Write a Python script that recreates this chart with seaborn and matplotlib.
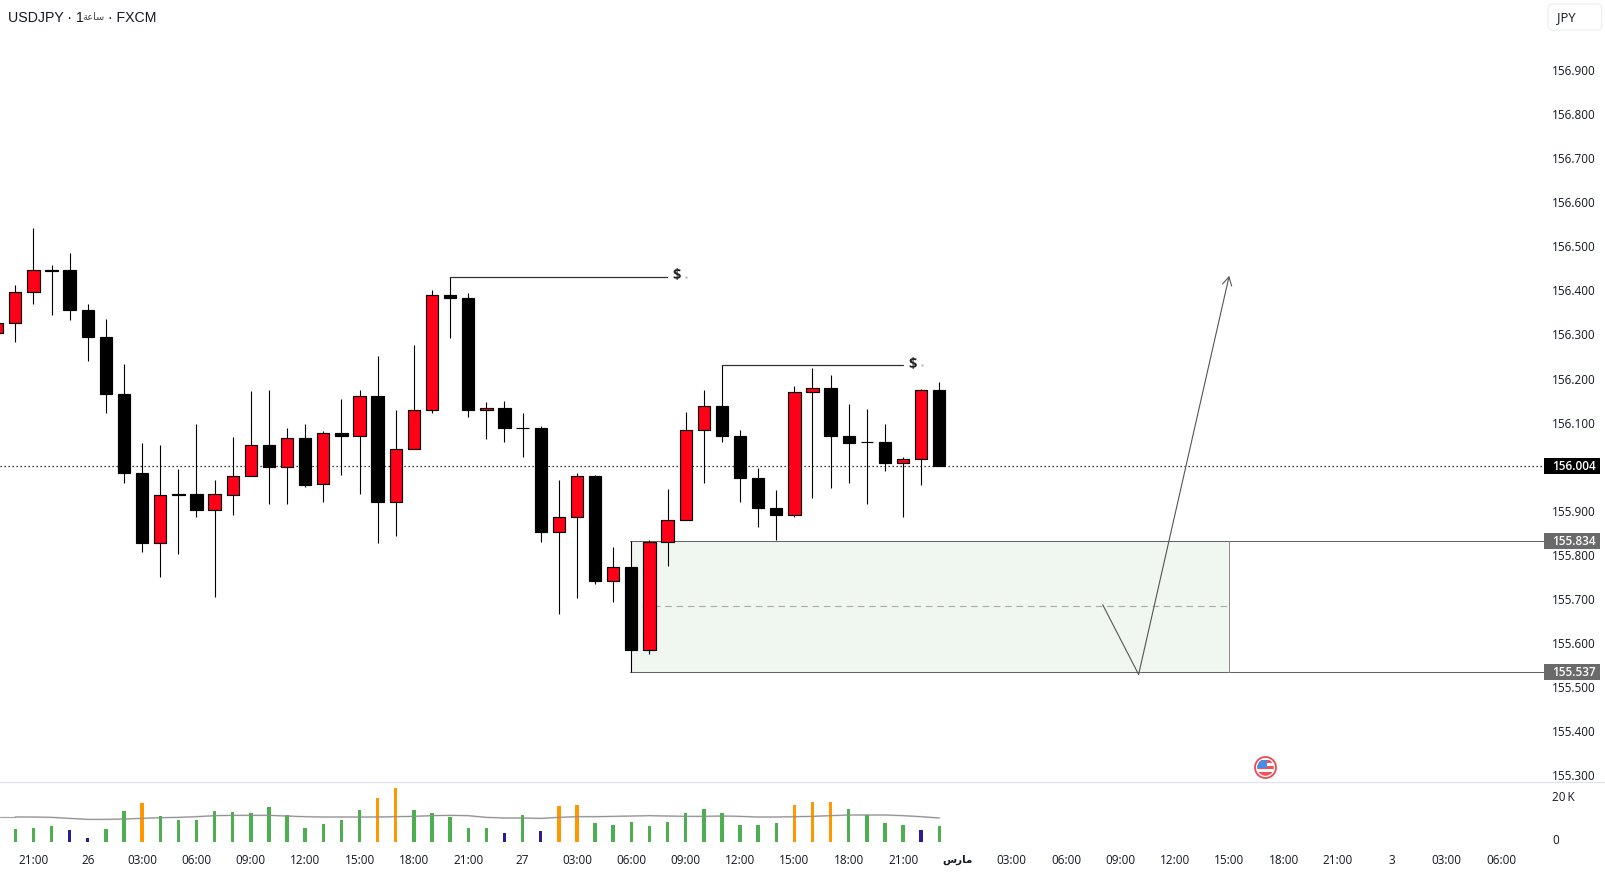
import matplotlib
matplotlib.use("Agg")
import matplotlib.pyplot as plt
from matplotlib.patches import Rectangle, FancyBboxPatch, Circle
from matplotlib.transforms import ScaledTranslation
import numpy as np
import pandas as pd
import seaborn as sns

# ---------- data ----------
bar_index = list(range(-1, 52))
opens = [156.306,156.329,156.400,156.448,156.448,156.359,156.298,156.168,155.989,155.829,155.941,
         155.941,155.904,155.940,155.981,156.053,156.002,156.068,155.963,156.080,156.072,156.164,
         155.922,156.043,156.131,156.393,156.385,156.131,156.136,156.091,156.091,155.856,155.888,
         155.982,155.745,155.775,155.588,155.832,155.882,156.086,156.141,156.073,155.977,155.909,
         155.893,156.172,156.182,156.073,156.059,156.059,156.011,156.020,156.177]
closes = [156.330,156.400,156.448,156.447,156.358,156.297,156.168,155.988,155.829,155.939,155.940,
          155.904,155.941,155.982,156.053,156.002,156.068,155.962,156.080,156.072,156.164,155.922,
          156.043,156.132,156.393,156.386,156.131,156.136,156.090,156.090,155.856,155.889,155.982,
          155.745,155.775,155.588,155.832,155.882,156.086,156.141,156.072,155.977,155.909,155.893,
          156.173,156.182,156.072,156.056,156.058,156.011,156.021,156.177,156.004]
highs = [156.335,156.414,156.545,156.460,156.487,156.371,156.339,156.235,156.056,156.053,155.997,
         156.099,155.974,156.071,156.174,156.178,156.090,156.101,156.085,156.156,156.176,156.255,
         156.131,156.278,156.403,156.434,156.396,156.149,156.153,156.124,156.096,155.974,155.989,
         155.985,155.821,155.835,155.837,155.953,156.126,156.176,156.234,156.087,156.001,155.951,
         156.185,156.226,156.210,156.146,156.135,156.101,156.026,156.180,156.196]
lows = [156.300,156.286,156.371,156.346,156.335,156.242,156.124,155.965,155.810,155.754,155.804,
        155.890,155.708,155.894,155.981,155.919,155.919,155.956,155.922,155.985,155.942,155.831,
        155.847,156.043,156.124,156.294,156.115,156.065,156.060,156.024,155.833,155.669,155.706,
        155.737,155.697,155.537,155.579,155.778,155.882,155.965,156.060,155.924,155.867,155.837,
        155.890,155.933,155.955,155.967,155.919,155.994,155.890,155.962,156.004]

vol_index = list(range(0, 52))
volumes = [5.8,6.2,7.1,5.3,1.8,5.8,13.8,17.3,11.5,9.8,9.8,13.8,13.3,12.9,15.5,12.0,6.2,8.0,9.8,14.2,
           19.5,24.0,14.2,12.9,11.1,6.2,6.2,4.0,12.0,4.9,16.0,16.4,8.4,7.5,8.9,7.1,8.9,12.9,14.7,12.9,
           7.5,7.5,8.4,16.4,17.8,17.8,14.7,12.0,8.4,7.5,5.3,7.1]
vol_class = ["normal","normal","normal","low","low","normal","normal","high","normal","normal","normal",
             "normal","normal","normal","normal","normal","normal","normal","normal","normal","high",
             "high","normal","normal","normal","normal","normal","low","normal","low","high","high",
             "normal","normal","normal","normal","normal","normal","normal","normal","normal","normal",
             "normal","high","high","high","normal","normal","normal","normal","low","normal"]
vol_ma = [11.1,11.1,10.95,10.5,10.06,10.06,10.2,10.5,10.8,10.95,11.25,11.7,11.84,11.84,11.84,11.54,
          11.25,11.1,11.1,11.1,11.1,11.25,11.4,11.7,11.84,11.7,10.95,10.66,10.66,10.5,10.95,11.25,
          11.25,11.4,11.54,11.7,11.54,11.4,11.4,11.54,11.4,11.1,11.1,11.25,11.4,11.7,12.0,12.0,12.0,
          11.7,11.25,10.66]

price_ticks = [155.3,155.4,155.5,155.6,155.7,155.8,155.9,156.1,156.2,156.3,156.4,156.5,156.6,156.7,156.8,156.9]
time_pos = [1,4,7,10,13,16,19,22,25,28,31,34,37,40,43,46,49,52,55,58,61,64,67,70,73,76,79,82]
MARCH = "\uFEB1\uFEAD\uFE8E\uFEE3"
time_labels = ["21:00","26","03:00","06:00","09:00","12:00","15:00","18:00","21:00","27","03:00","06:00",
               "09:00","12:00","15:00","18:00","21:00",MARCH,"03:00","06:00","09:00","12:00","15:00",
               "18:00","21:00","3","03:00","06:00"]
last_price = 156.004
zone_top = 155.834
zone_bottom = 155.537
zone_mid = 155.687
zone_left = 34
zone_mid_left = 34.6
zone_right = 67
liq1_price, liq1_from, liq1_to = 156.434, 24, 35.98
liq2_price, liq2_from, liq2_to = 156.234, 39, 49
path_x = [60.02, 62.0, 67.0]
path_y = [155.690, 155.532, 156.436]
title_left = "USDJPY \u00b7 1"
title_hour = "\uFE94\uFECB\uFE8E\uFEB3"
title_right = "\u00b7 FXCM"

# ---------- style ----------
W, H = 1606, 875
sns.set_theme(style="white")
plt.rcParams["font.family"] = ["Open Sans", "DejaVu Sans"]
RED = "#FF0018"
INK = "#131722"
TAG = "#6A6A6A"
SEP = "#E0E3EB"

fig = plt.figure(figsize=(W/100, H/100), dpi=100, facecolor="white")
SEP_Y = 781.5
VOL_BOTTOM = 848
ax = fig.add_axes([0, 1 - SEP_Y/H, 1, SEP_Y/H])
vax = fig.add_axes([0, 1 - VOL_BOTTOM/H, 1, (VOL_BOTTOM - SEP_Y)/H])

# pixel x = 15.3 + 18.118 * bar; pixel y = 466.3 + 441 * (156.004 - price)
PX = 18.118
PY = 441.0
xlim = ((0 - 15.3)/PX, (W - 15.3)/PX)
ylim = (last_price - (SEP_Y - 466.3)/PY, last_price + 466.3/PY)
right_end = (1544 - 15.3)/PX
tag_left = (1544 - 15.3)/PX
tag_right = (1600.5 - 15.3)/PX
label_nudge = ScaledTranslation(0, 1.3/100, fig.dpi_scale_trans)

df = pd.DataFrame({"bar": bar_index, "o": opens, "c": closes, "h": highs, "l": lows})
df["up"] = df.c >= df.o
df["top"] = df[["o", "c"]].max(axis=1)
df["bot"] = df[["o", "c"]].min(axis=1)

# zone
ax.add_patch(Rectangle((zone_left, zone_bottom), zone_right - zone_left, zone_top - zone_bottom,
                       facecolor="#F0F6F0", edgecolor="none", zorder=1))
ax.plot([zone_left - 0.1, right_end], [zone_top]*2, color="#666666", lw=0.75, zorder=1.5)
ax.plot([zone_left - 0.1, right_end], [zone_bottom]*2, color="#666666", lw=0.75, zorder=1.5)
ax.plot([zone_right]*2, [zone_bottom, zone_top], color="#8A8A8A", lw=0.7, zorder=1.5)
ax.plot([zone_mid_left, zone_right], [zone_mid]*2, color="#AAAAAA", lw=0.8, ls=(0, (6, 4.2)), zorder=1.5)

# last price line
ax.plot([xlim[0], right_end], [last_price]*2, color="black", lw=0.9, ls=(0, (1, 2.2)), zorder=1.6)

# candles
ax.vlines(df.bar, df.l, df.h, color="black", lw=0.8, zorder=3)
ax.bar(df.bar, df.c.sub(df.o).abs(), bottom=df.bot, width=0.68,
       color=[RED if u else "black" for u in df.up], edgecolor="black", linewidth=0.85, zorder=4)

# liquidity lines
for price, a, b in [(liq1_price, liq1_from, liq1_to), (liq2_price, liq2_from, liq2_to)]:
    ax.plot([a, b], [price]*2, color="#333333", lw=0.9, zorder=3)
    ax.text(b + 0.5, price + 0.003, "$", ha="center", va="center", fontsize=10.5, fontweight="bold",
            color="#222222", zorder=5)
    ax.plot([b + 1.03], [price], marker=".", ms=0.9, color="#999999", zorder=3)

# drawn path + open arrow
ax.plot(path_x[:2], path_y[:2], color="#555555", lw=0.8, zorder=5)
ax.annotate("", xy=(path_x[2], path_y[2]), xytext=(path_x[1], path_y[1]),
            arrowprops=dict(arrowstyle="->,head_length=0.5,head_width=0.28", color="#555555", lw=0.8,
                            shrinkA=0, shrinkB=0), zorder=5)

# price tags
for price, bg in [(last_price, "black"), (zone_top, TAG), (zone_bottom, TAG)]:
    ax.add_patch(Rectangle((tag_left, price - 8/PY), tag_right - tag_left, 16/PY,
                           facecolor=bg, edgecolor="none", zorder=6))
    ax.text((1552.5 - 15.3)/PX, price, f"{price:.3f}", color="white", fontsize=8.5, fontweight="semibold",
            va="center", ha="left", zorder=7)

ax.set_xlim(*xlim)
ax.set_ylim(*ylim)
ax.yaxis.tick_right()
ax.set_yticks(price_ticks, [f"{t:.3f}" for t in price_ticks])
ax.tick_params(axis="y", length=0, pad=-38.6, labelsize=8.45, labelcolor=INK)
for lab in ax.get_yticklabels():
    lab.set_transform(lab.get_transform() + label_nudge)
ax.set_xticks([])
for s in ax.spines.values():
    s.set_visible(False)
ax.set_xlabel(""); ax.set_ylabel("")

# volume
vdf = pd.DataFrame({"bar": vol_index, "vol": volumes, "kind": vol_class})
sns.barplot(data=vdf, x="bar", y="vol", hue="kind", native_scale=True, dodge=False, width=0.19,
            palette={"normal": "#4CAF50", "high": "#FF9800", "low": "#311B92"}, saturation=1,
            legend=False, ax=vax, zorder=3)
for bar in vax.patches:
    bar.set_snap(True)
    bar.set_linewidth(0)
mdf = pd.DataFrame({"bar": vol_index, "ma": vol_ma})
sns.lineplot(data=mdf, x="bar", y="ma", color="#D2D2D2", lw=1.3, ax=vax, zorder=2, legend=False)
sns.lineplot(data=mdf, x="bar", y="ma", color="#8E8E8E", lw=0.7, ax=vax, zorder=4, legend=False)
vax.plot([xlim[0], 0], [vol_ma[0]]*2, color="#A8A8A8", lw=0.9, zorder=2)
vax.set_xlim(*xlim)
vax.set_ylim(-(VOL_BOTTOM - 842)/2.25, (842 - SEP_Y)/2.25)
vax.yaxis.tick_right()
vax.set_yticks([0, 20], ["0", "20\u2009K"])
vax.tick_params(axis="y", length=0, pad=-38.6, labelsize=8.45, labelcolor=INK)
zero_label, k_label = vax.get_yticklabels()
zero_label.set_transform(zero_label.get_transform() + ScaledTranslation(0, 2.6/100, fig.dpi_scale_trans))
k_label.set_transform(k_label.get_transform() + ScaledTranslation(0, 0.8/100, fig.dpi_scale_trans))
vax.set_xticks(time_pos, time_labels)
vax.tick_params(axis="x", length=0, pad=4.6, labelsize=8.45, labelcolor=INK)
for lab, txt in zip(vax.get_xticklabels(), time_labels):
    if txt == MARCH:
        lab.set_family(["DejaVu Sans"])
        lab.set_fontweight("bold")
        lab.set_fontsize(7.4)
for s in vax.spines.values():
    s.set_visible(False)
vax.spines["top"].set_visible(True)
vax.spines["top"].set_color(SEP)
vax.spines["top"].set_linewidth(0.9)
vax.set_xlabel(""); vax.set_ylabel("")

# overlay for chrome (pixel coordinates)
ov = fig.add_axes([0, 0, 1, 1], facecolor="none")
ov.set_xlim(0, W); ov.set_ylim(H, 0); ov.axis("off")
title_font = ["Liberation Sans", "DejaVu Sans"]
ov.text(8, 18.5, title_left, fontsize=10.2, color=INK, va="center", ha="left", family=title_font)
ov.text(82, 17.5, title_hour, fontsize=7.0, color="#444444", va="center", ha="left", family=["DejaVu Sans"])
ov.text(108.5, 18.5, title_right, fontsize=10.2, color=INK, va="center", ha="left", family=title_font)
ov.add_patch(FancyBboxPatch((1549.5, 5.5), 50.7, 23, boxstyle="round,pad=1.5,rounding_size=5",
                            facecolor="white", edgecolor="#EEF0F3", lw=1))
ov.text(1557, 17.5, "JPY", fontsize=9.4, color=INK, va="center", ha="left")

# flag icon
cx, cy, r = 1265.5, 767.5, 10.5
ov.add_patch(Circle((cx, cy), r, facecolor="white", edgecolor="#EE4A50", lw=1.3))
clip = Circle((cx, cy), r - 2.2, transform=ov.transData)
for yy, hh, c in [(-8, 3.2, "#F0535A"), (-4.8, 3.2, "#FFFFFF"), (-1.6, 3.2, "#F0535A"),
                  (1.6, 3.0, "#FFFFFF"), (4.6, 3.6, "#F0535A")]:
    p = Rectangle((cx - r, cy + yy), 2*r, hh, facecolor=c, edgecolor="none")
    ov.add_patch(p); p.set_clip_path(clip)
p = Rectangle((cx - r, cy - 8), r + 1.5, 8, facecolor="#4A8BE6", edgecolor="none")
ov.add_patch(p); p.set_clip_path(clip)

fig.savefig("out.png", dpi=100, facecolor="white")
